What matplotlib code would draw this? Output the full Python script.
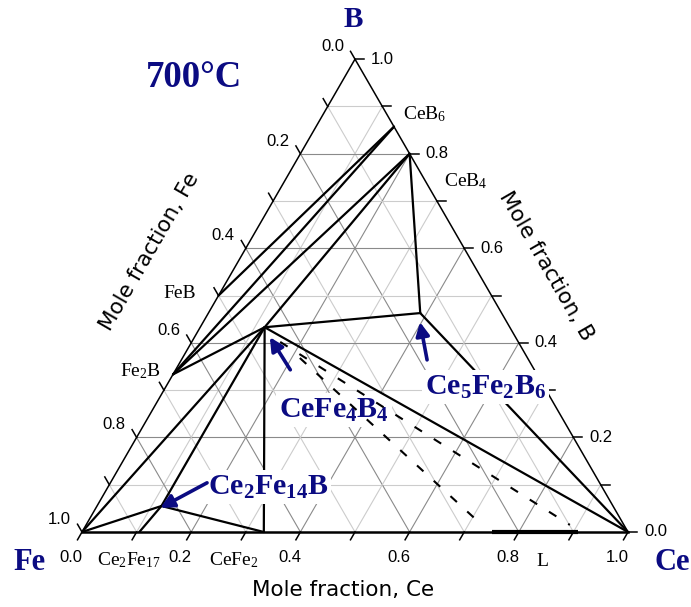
import numpy as np
import matplotlib
matplotlib.use('Agg')
import matplotlib.pyplot as plt

plt.rcParams['mathtext.fontset'] = 'custom'
plt.rcParams['mathtext.rm'] = 'Liberation Serif'
plt.rcParams['mathtext.it'] = 'Liberation Serif:italic'
plt.rcParams['mathtext.bf'] = 'Liberation Serif:bold'

# compositions as (Ce, B) mole fractions, Fe = 1 - Ce - B
phases = {
    'Fe': (0.0, 0.0),
    'Ce': (1.0, 0.0),
    'CeB6': (1 / 7, 6 / 7),
    'CeB4': (0.2, 0.8),
    'FeB': (0.0, 0.5),
    'Fe2B': (0.0, 1 / 3),
    'CeFe4B4': (0.118, 0.433),
    'Ce5Fe2B6': (0.388, 0.463),
    'Ce2Fe14B': (0.118, 0.055),
    'Ce2Fe17': (0.105, 0.0),
    'CeFe2': (0.333, 0.0),
}
tie_lines = [
    ('CeB6', 'FeB'), ('CeB6', 'Fe2B'), ('CeB4', 'Fe2B'), ('CeB4', 'CeFe4B4'),
    ('CeB4', 'Ce5Fe2B6'), ('Fe2B', 'CeFe4B4'), ('Fe', 'CeFe4B4'),
    ('Fe', 'Ce2Fe14B'), ('Ce2Fe17', 'Ce2Fe14B'), ('Ce2Fe14B', 'CeFe4B4'),
    ('Ce2Fe14B', 'CeFe2'), ('CeFe2', 'CeFe4B4'), ('CeFe4B4', 'Ce5Fe2B6'),
    ('CeFe4B4', 'Ce'), ('Ce5Fe2B6', 'Ce'),
]
# dashed tie lines (Ce, B) start -> end
dashed_ce = [(0.162, 0.886), (0.215, 0.719)]
dashed_b = [(0.402, 0.015), (0.368, 0.019)]
liquid_ce = [0.751, 0.908]
tick_vals = np.round(np.arange(0, 1.01, 0.1), 1)

navy = '#0b0b82'
SQ = np.sqrt(3) / 2


def tern(ce, b):
    ce = np.asarray(ce, float)
    b = np.asarray(b, float)
    return ce + b / 2, b * SQ


def px(x, y):
    # pixel position on the 691x607 canvas -> data coordinates
    return (x - 82) / 546, (532 - y) / 546


fig = plt.figure(figsize=(6.91, 6.07), dpi=100)
ax = fig.add_axes([0, 0, 1, 1])
ax.set_xlim(-82 / 546, (691 - 82) / 546)
ax.set_ylim((532 - 607) / 546, 532 / 546)
ax.axis('off')

# grid
for v in tick_vals[1:-1]:
    c = '#8a8a8a' if round(v * 10) % 2 == 0 else '#cccccc'
    for ce, b in (([0, 1 - v], [v, v]), ([v, v], [0, 1 - v]), ([1 - v, 0], [0, 1 - v])):
        x, y = tern(ce, b)
        ax.plot(x, y, color=c, lw=0.8, zorder=1)

# frame
ax.plot(*tern([1, 0, 0], [0, 1, 0]), color='k', lw=1.1, zorder=2)
ax.plot(*tern([0, 1], [0, 0]), color='k', lw=1.8, zorder=2)

# ticks and labels
L = 9 / 546
sans = ['Liberation Sans', 'DejaVu Sans']
for v in tick_vals:
    bx, by = tern(v, 0)
    ax.plot([bx, bx - L * 0.5], [by, by - L * SQ], color='k', lw=1.1)
    rx, ry = tern(1 - v, v)
    ax.plot([rx, rx + L], [ry, ry], color='k', lw=1.1)
    lx, ly = tern(0, 1 - v)
    ax.plot([lx, lx - L * 0.5], [ly, ly + L * SQ], color='k', lw=1.1)
    if round(v * 10) % 2 == 0:
        ax.text(bx - 11 / 546, -25.5 / 546, f'{v:.1f}', ha='center', va='center',
                fontsize=12, family=sans)
        ax.text(rx + 16 / 546, ry, f'{v:.1f}', ha='left', va='center',
                fontsize=12, family=sans)
        ax.text(lx - 11 / 546, ly + 12.5 / 546, f'{v:.1f}', ha='right', va='center',
                fontsize=12, family=sans)

title_font = dict(fontsize=15.5, family='DejaVu Sans', ha='center', va='center')
ax.text(*px(343, 590), 'Mole fraction, Ce', **title_font)
ax.text(*px(150, 252), 'Mole fraction, Fe', rotation=60, rotation_mode='anchor', **title_font)
ax.text(*px(546, 266), 'Mole fraction, B', rotation=-60, rotation_mode='anchor', **title_font)

# tie lines
for a, b in tie_lines:
    (c1, b1), (c2, b2) = phases[a], phases[b]
    ax.plot(*tern([c1, c2], [b1, b2]), color='k', lw=1.6, zorder=3,
            solid_capstyle='round')
for ce, b in zip(dashed_ce, dashed_b):
    ln, = ax.plot(*tern(ce, b), color='k', lw=1.5, zorder=4.5)
    ln.set_dashes([4.2, 6.7])
ax.plot(*tern(liquid_ce, [0, 0]), color='k', lw=3.0, zorder=3, solid_capstyle='butt')

# compound labels
serif = ['Liberation Serif', 'DejaVu Serif']
for txt, (x0, y0) in [('CeB$_6$', (403, 119)), ('CeB$_4$', (444, 186)),
                      ('FeB', (163, 298)), ('Fe$_2$B', (120, 376)),
                      ('Ce$_2$Fe$_{17}$', (97, 565)), ('CeFe$_2$', (209, 565)),
                      ('L', (536, 566))]:
    ax.text(*px(x0, y0), txt, ha='left', va='baseline', fontsize=14, family=serif)

ax.text(*px(146, 87), '700°C', ha='left', va='baseline', fontsize=26.5,
        family=serif, weight='bold', color=navy)
ax.text(*px(353, 27), 'B', ha='center', va='baseline', fontsize=21,
        family=serif, weight='bold', color=navy)
ax.text(*px(13, 570), 'Fe', ha='left', va='baseline', fontsize=22,
        family=serif, weight='bold', color=navy)
ax.text(*px(655, 570), 'Ce', ha='left', va='baseline', fontsize=22,
        family=serif, weight='bold', color=navy)

box = dict(facecolor='white', edgecolor='none', pad=2)
for txt, (x0, y0), z in [(r'$\mathbf{Ce_2Fe_{14}B}$', (208, 495), 4),
                         (r'$\mathbf{CeFe_4B_4}$', (279, 418), 2.5),
                         (r'$\mathbf{Ce_5Fe_2B_6}$', (425, 395), 4)]:
    ax.text(*px(x0, y0), txt, ha='left', va='baseline', fontsize=21.5,
            color=navy, bbox=box, zorder=z)

# arrows (Ce, B) tip / tail
arrows = [((0.118, 0.051), (0.177, 0.104)),
          ((0.138, 0.412), (0.210, 0.343)),
          ((0.397, 0.444), (0.450, 0.364))]
for tip, tail in arrows:
    ax.annotate('', xy=tern(*tip), xytext=tern(*tail), zorder=5,
                arrowprops=dict(arrowstyle='-|>,head_length=0.8,head_width=0.4',
                                color=navy, lw=2.6, shrinkA=0, shrinkB=0))

fig.savefig('out.png', dpi=100)
